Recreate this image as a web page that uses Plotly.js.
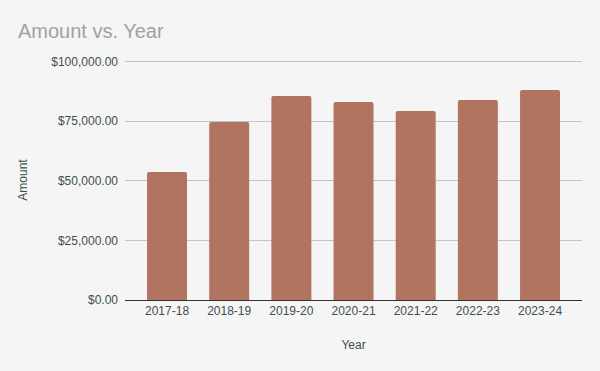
<!DOCTYPE html>
<html>
<head>
<meta charset="utf-8">
<script src="https://cdn.plot.ly/plotly-3.0.1.min.js"></script>
<style>html,body{margin:0;padding:0;background:#f5f5f5;}#chart{width:600px;height:371px;}</style>
</head>
<body>
<div id="chart"></div>
<script>
const years = ["2017-18", "2018-19", "2019-20", "2020-21", "2021-22", "2022-23", "2023-24"];
const amounts = [53700, 74600, 85500, 83000, 79200, 83900, 88000];
const yTicks = [0, 25000, 50000, 75000, 100000];
const yTickLabels = ["$0.00", "$25,000.00", "$50,000.00", "$75,000.00", "$100,000.00"];

const trace = {
  type: "bar",
  x: years,
  y: amounts,
  width: 0.643,
  marker: {color: "#b07460", cornerradius: 2},
  hoverinfo: "x+y"
};

const tickFont = {family: "Liberation Sans, Arial, sans-serif", size: 12, color: "#3f4f4f"};

const layout = {
  width: 600,
  height: 371,
  paper_bgcolor: "#f5f5f5",
  plot_bgcolor: "#f5f5f5",
  margin: {l: 125, r: 18, t: 60, b: 71, pad: 0},
  showlegend: false,
  title: {
    text: "Amount vs. Year",
    xref: "container", x: 18 / 600, xanchor: "left",
    yref: "container", y: 1 - 31 / 371, yanchor: "middle",
    font: {family: "Liberation Sans, Arial, sans-serif", size: 20, color: "#9aa4a4"}
  },
  xaxis: {
    type: "category",
    range: [-0.676, 6.675],
    showgrid: false,
    showline: true,
    linecolor: "#333333",
    linewidth: 1,
    ticks: "",
    tickfont: tickFont,
    title: {text: "Year", font: tickFont, standoff: 23},
    automargin: false,
    fixedrange: true
  },
  yaxis: {
    range: [0, 100629],
    tickvals: yTicks,
    ticktext: yTickLabels,
    showgrid: true,
    gridcolor: "#c4c4c4",
    gridwidth: 1,
    zeroline: false,
    showline: false,
    ticks: "",
    ticklabelstandoff: 6,
    tickfont: tickFont,
    title: {text: "Amount", font: tickFont, standoff: 21},
    automargin: false,
    fixedrange: true
  }
};

Plotly.newPlot("chart", [trace], layout, {displayModeBar: false, staticPlot: true});
</script>
</body>
</html>
